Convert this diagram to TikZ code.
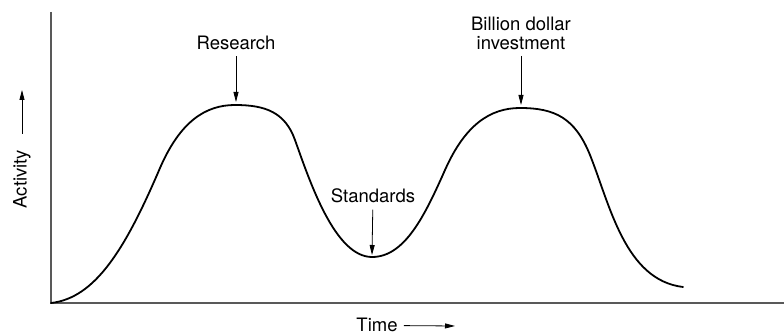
\documentclass[tikz,border=0pt]{standalone}
\usepackage{fontspec}
\setmainfont{TeX Gyre Heros}
\usetikzlibrary{arrows.meta}
\tikzset{
  rotulo/.style={font=\fontsize{18.5}{19.5}\selectfont, inner sep=6pt, align=center},
  seta/.style={-{Triangle[length=10pt,width=5pt]}, line width=0.8pt},
  eixo/.style={draw=black!65, line width=1.2pt},
  curva/.style={line width=1.8pt, line join=round, line cap=round}
}
\begin{document}
\begin{tikzpicture}[x=1pt,y=-1pt]
  \useasboundingbox (0,0) rectangle (784,336);

  % Eixos
  \coordinate (origem) at (51,303);
  \coordinate (topo) at (51,12);
  \coordinate (fim) at (784,303);
  \draw[eixo] (topo) -- (origem) -- (fim);

  % Curva de atividade
  \draw[curva] (origem)
    .. controls (95,298) and (125,250) .. (160,168)
    .. controls (180,122) and (205,105) .. (235,105)
    .. controls (265,105) and (285,112) .. (295,140)
    .. controls (310,182) and (335,257) .. (372,257)
    .. controls (405,257) and (425,215) .. (445,170)
    .. controls (465,125) and (490,108) .. (520,108)
    .. controls (555,108) and (575,118) .. (590,155)
    .. controls (610,205) and (625,280) .. (683,287);

  % Pontos marcados na curva
  \coordinate (pesquisa) at (236,102);
  \coordinate (padroes) at (372,255);
  \coordinate (investimento) at (521,105);
  \coordinate (atividade) at (22,90);
  \coordinate (tempo) at (455,326);

  % Rotulos
  \node[rotulo, anchor=base] (research) at (236,50) {Research};
  \node[rotulo, anchor=base] (standards) at (373,203) {Standards};
  \node[rotulo, anchor=south] (billion) at (521,56) {Billion dollar\\investment};
  \node[rotulo, rotate=90] (activity) at (22,179) {Activity};
  \node[rotulo, anchor=base] (time) at (377,332) {Time};

  % Setas
  \draw[seta] (research) -- (pesquisa);
  \draw[seta] (standards) -- (padroes);
  \draw[seta] (billion) -- (investimento);
  \draw[seta, shorten <=10pt] (activity) -- (atividade);
  \draw[seta] (time) -- (tempo);
\end{tikzpicture}
\end{document}
